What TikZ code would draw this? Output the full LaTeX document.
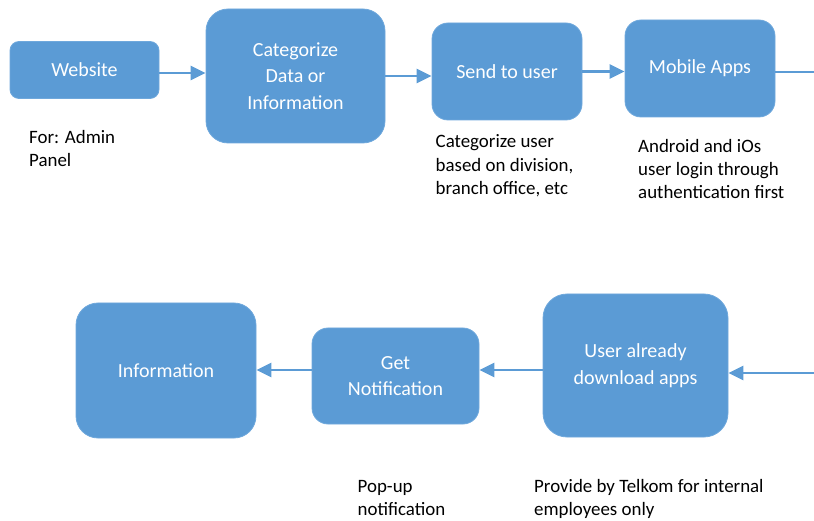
\documentclass[tikz,border=0pt]{standalone}
\usepackage{fontspec}
\setmainfont{Carlito}
\usetikzlibrary{arrows.meta}

\definecolor{boxblue}{HTML}{5B9BD5}
\definecolor{boxedge}{HTML}{6FA8DC}

\tikzset{
    flowbox/.style={rectangle, fill=boxblue, draw=boxedge, line width=0.8pt,
        text=white, align=center, inner sep=0pt,
        font=\fontsize{20}{26.5}\selectfont},
    note/.style={anchor=base west, align=left, inner sep=0pt,
        font=\fontsize{18.9}{23.3}\selectfont},
    flow/.style={-{Triangle[length=15pt,width=14pt]}, draw=boxblue, line width=2.6pt}
}

\begin{document}
\begin{tikzpicture}[x=1pt, y=-1pt]
    \useasboundingbox (0,0) rectangle (814,521);

    % top row
    \node (web) [flowbox, minimum width=149pt, minimum height=57pt, rounded corners=9pt] at (84.5,70) {Website};
    \node (cat) [flowbox, minimum width=179pt, minimum height=134pt, rounded corners=22pt] at (295.5,76) {Categorize\\Data or\\Information};
    \node (send) [flowbox, minimum width=150pt, minimum height=97pt, rounded corners=16pt] at (507,71.5) {Send to user};
    \node (mob) [flowbox, minimum width=150pt, minimum height=97pt, rounded corners=16pt] at (700,68.5) {Mobile Apps};
    \coordinate (outR) at (814,72);

    % bottom row
    \node (info) [flowbox, minimum width=180pt, minimum height=135pt, rounded corners=22pt] at (166,370.5) {Information};
    \node (getn) [flowbox, minimum width=167pt, minimum height=96pt, rounded corners=16pt] at (395.5,376) {Get\\Notification};
    \node (user) [flowbox, minimum width=185pt, minimum height=143pt, rounded corners=24pt] at (635.5,365.5) {User already\\download apps};
    \coordinate (inR) at (814,373);

    % notes (placed at the baseline of the last line)
    \node (n1) [note] at (29,166.5) {For: Admin\\Panel};
    \node (n2) [note] at (435.5,194.5) {Categorize user\\based on division,\\branch office, etc};
    \node (n3) [note] at (638,199) {Android and iOs\\user login through\\authentication first};
    \node (n4) [note] at (357.5,515.5) {Pop-up\\notification};
    \node (n5) [note] at (534,515.5) {Provide by Telkom for internal\\employees only};

    % arrows
    \draw[flow] ([yshift=-3pt]web.east) -- ([yshift=-3pt]web.east -| cat.west);
    \draw[flow] (cat.east) -- (cat.east -| send.west);
    \draw[flow] (send.east) -- (send.east -| mob.west);
    \draw[draw=boxblue, line width=2.6pt] (mob.east |- outR) -- (outR);
    \draw[flow] (inR) -- (inR -| user.east);
    \draw[flow] ([yshift=-4.5pt]user.west) -- ([yshift=-4.5pt]user.west -| getn.east);
    \draw[flow] ([yshift=6pt]getn.west) -- ([yshift=6pt]getn.west -| info.east);
\end{tikzpicture}
\end{document}
